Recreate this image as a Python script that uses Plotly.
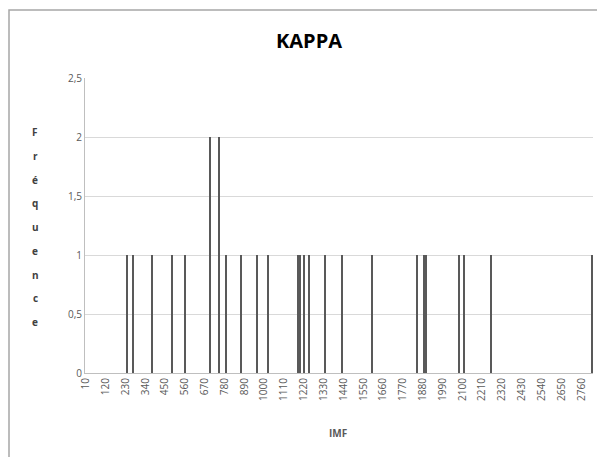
import plotly.graph_objects as go

# Bin categories (IMF) and observed frequencies
bin_start = 10
bin_end = 2820
bin_step = 10
imf_values = [240, 270, 380, 490, 560, 700, 750, 790, 870, 960, 1020,
              1190, 1200, 1220, 1250, 1340, 1430, 1600, 1850, 1890, 1900,
              2080, 2110, 2260, 2820]
frequencies = [1, 1, 1, 1, 1, 2, 2, 1, 1, 1, 1,
               1, 1, 1, 1, 1, 1, 1, 1, 1, 1,
               1, 1, 1, 1]
tick_labels = [str(v) for v in range(10, 2761, 110)]

bins = list(range(bin_start, bin_end + 1, bin_step))
counts = {b: 0 for b in bins}
for v, f in zip(imf_values, frequencies):
    counts[v] = f
yvals = [counts[b] for b in bins]

fig = go.Figure()
fig.add_trace(go.Bar(
    x=bins, y=yvals, width=7,
    marker=dict(color="#595959", line=dict(width=0)),
))

# page body adds an 8px offset; the figure is sized so it fits the window
OFF = 8
W, H = 605 - OFF, 457 - OFF
ml, mr, mt, mb = 85 - OFF, 605 - 593, 78 - OFF, 457 - 373


def px_x(x):
    return (x - OFF - ml) / (W - ml - mr)


def px_y(y):
    return (H - mb - (y - OFF)) / (H - mt - mb)


fig.update_layout(
    width=W, height=H,
    margin=dict(l=ml, r=mr, t=mt, b=mb, autoexpand=False),
    paper_bgcolor="white", plot_bgcolor="white",
    separators=", ",
    showlegend=False,
    bargap=0,
    font=dict(family="Open Sans, Arial, sans-serif", color="#595959"),
    xaxis=dict(
        range=[bin_start - 5, bin_end + 5],
        tickmode="array",
        tickvals=[int(t) for t in tick_labels],
        ticktext=tick_labels,
        tickangle=-90,
        tickfont=dict(size=10, color="#595959"),
        showgrid=False, zeroline=False,
        showline=True, linecolor="#bfbfbf", linewidth=1,
        ticks="", fixedrange=True, automargin=False,
    ),
    yaxis=dict(
        range=[0, 2.5],
        tickmode="array",
        tickvals=[0, 0.5, 1, 1.5, 2, 2.5],
        ticktext=["0", "0,5", "1", "1,5", "2", "2,5"],
        tickfont=dict(size=10, color="#595959"),
        showgrid=True, gridcolor="#d9d9d9", gridwidth=1,
        zeroline=False,
        showline=True, linecolor="#bfbfbf", linewidth=1,
        ticks="", ticklen=0, automargin=False,
    ),
)

# Chart frame (cropped on right/bottom)
fig.add_shape(type="rect", xref="paper", yref="paper",
              x0=px_x(9), x1=px_x(620),
              y0=px_y(470), y1=px_y(10),
              line=dict(color="#a6a6a6", width=1.5), fillcolor="rgba(0,0,0,0)")

# Title
fig.add_annotation(text="<b>KAPPA</b>", xref="paper", yref="paper",
                   x=px_x(309), y=px_y(41),
                   showarrow=False, xanchor="center", yanchor="middle",
                   font=dict(size=20, color="#000000", family="Open Sans, Arial, sans-serif"))

# X axis title
fig.add_annotation(text="<b>IMF</b>", xref="paper", yref="paper",
                   x=px_x(338), y=px_y(433),
                   showarrow=False, xanchor="center", yanchor="middle",
                   font=dict(size=10, color="#595959"))

# Y axis title, stacked letters
letters = list("Fréquence")
for i, ch in enumerate(letters):
    ypx = 132 + i * 23.75
    fig.add_annotation(text="<b>" + ch + "</b>", xref="paper", yref="paper",
                       x=px_x(35), y=px_y(ypx),
                       showarrow=False, xanchor="center", yanchor="middle",
                       font=dict(size=10, color="#404040"))

fig.write_html("out.html")
